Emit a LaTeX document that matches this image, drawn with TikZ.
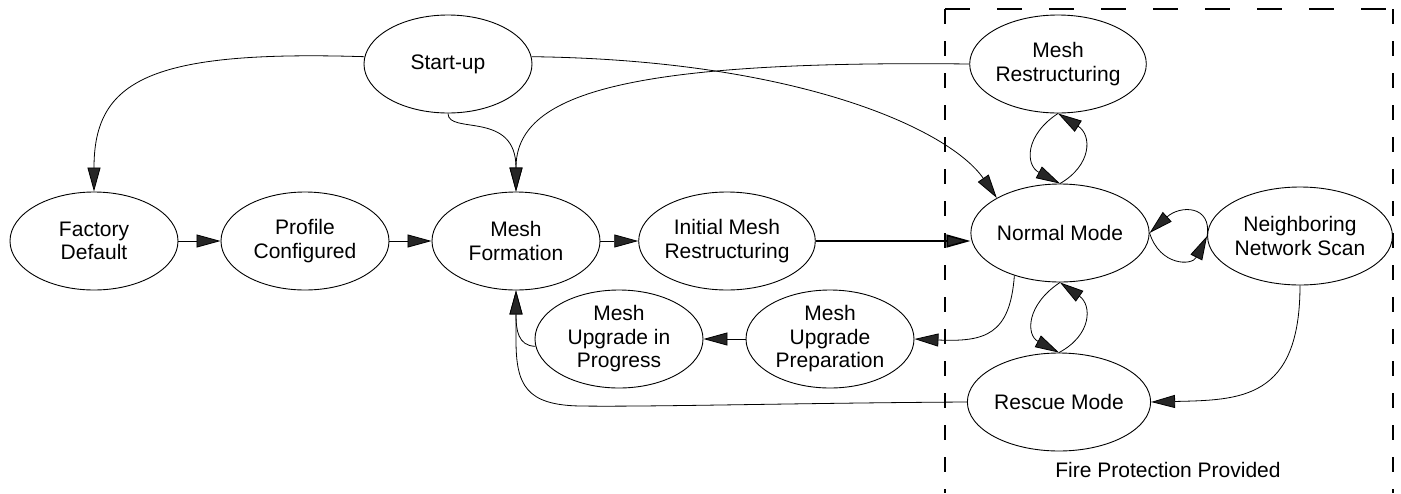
\documentclass[tikz,border=0pt]{standalone}
\usepackage{fontspec}
\setmainfont{Liberation Sans}
\usetikzlibrary{arrows.meta,shapes.geometric}
\begin{document}
\begin{tikzpicture}[x=1pt,y=-1pt,
  state/.style={ellipse, draw=black, line width=0.9pt, minimum width=168pt, minimum height=98pt, inner sep=0pt, align=center, font=\fontsize{21}{23.5}\selectfont},
  arr/.style={line width=0.8pt, -{Triangle[length=24pt,width=13pt,fill=black!85]}},
  thickarr/.style={line width=1.6pt, -{Triangle[length=24pt,width=13pt,fill=black!85]}},
  fence/.style={line width=1.2pt, black}
]
\useasboundingbox (0,0) rectangle (1401,493);

\node[state] (su) at (448,64) {Start-up};
\node[state] (fd) at (94,241) {Factory\\Default};
\node[state] (pc) at (305,241) {Profile\\Configured};
\node[state] (mf) at (516,241) {Mesh\\Formation};
\node[state] (imr) at (727,241) {Initial Mesh\\Restructuring};
\node[state] (nm) at (1060,233) {Normal Mode};
\node[state] (ns) at (1300,236) {Neighboring\\Network Scan};
\node[state] (mr) at (1058,64) {Mesh\\Restructuring};
\node[state] (rm) at (1059,402) {Rescue Mode};
\node[state] (mup) at (619,339) {Mesh\\Upgrade in\\Progress};
\node[state] (mpp) at (830,339) {Mesh\\Upgrade\\Preparation};
\node[font=\fontsize{21}{23.5}\selectfont] (fp) at (1168,470) {Fire Protection Provided};

% dashed region
\draw[fence, dash pattern=on 25pt off 27pt] (945,9) -- (1393,9);
\draw[fence, dash pattern=on 15pt off 17pt] (945,9) -- (945,493);
\draw[fence, dash pattern=on 15pt off 17pt] (1393,9) -- (1393,493);

% top curves
\draw[arr] (su.175) .. controls (150,50) and (94,80) .. (fd.north);
\draw[arr] (su.south) .. controls (448,135) and (516,110) .. (mf.north);
\draw[arr] (mr.west) .. controls (620,60) and (516,95) .. (mf.north);
\draw[arr] (su.5) .. controls (800,60) and (950,130) .. (nm.151);

% loops
\draw[arr] (mr.south) .. controls (1025,135) and (1025,165) .. (nm.north);
\draw[arr] (nm.north) .. controls (1092,165) and (1092,135) .. (mr.south);
\draw[arr] (nm.south) .. controls (1026,305) and (1026,335) .. (rm.north);
\draw[arr] (rm.north) .. controls (1092,335) and (1092,305) .. (nm.south);
\draw[arr] (ns.west) .. controls (1212,205) and (1180,205) .. (nm.east);
\draw[arr] (nm.east) .. controls (1160,266) and (1192,266) .. (ns.west);

% main row
\draw[arr] (fd.east) -- (pc.west);
\draw[arr] (pc.east) -- (mf.west);
\draw[arr] (mf.east) -- (imr.west);
\draw[thickarr] (imr.east) -- (nm.west |- imr.east);

% lower
\draw[arr] (mpp.west) -- (mup.east);
\draw[arr] (mup.185) .. controls (518,346) and (516,330) .. (mf.south);
\draw[arr] (rm.west) .. controls (800,403) and (650,407) .. (580,406) .. controls (526,405) and (516,385) .. (516,340) -- (mf.south);
\draw[arr] (nm.223) .. controls (1010,335) and (985,342) .. (mpp.east);
\draw[arr] (ns.south) .. controls (1300,400) and (1240,400) .. (rm.east);
\end{tikzpicture}
\end{document}
